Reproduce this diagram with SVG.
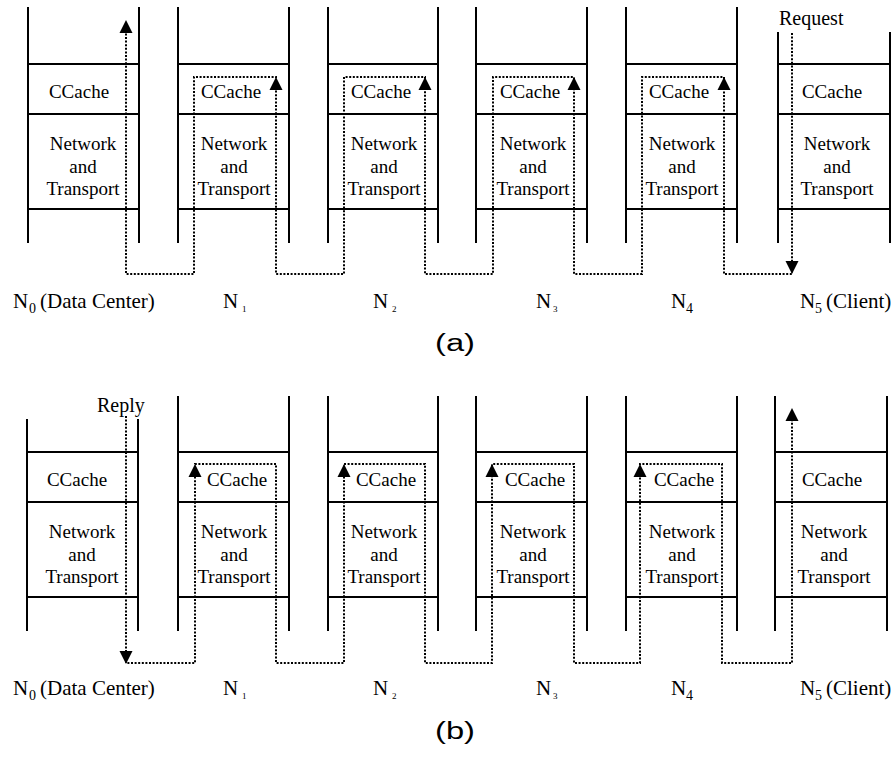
<svg xmlns="http://www.w3.org/2000/svg" width="896" height="758" viewBox="0 0 896 758">
<style>
.st{fill:none;stroke:#000;stroke-width:2}
text{font-family:"Liberation Serif","Times New Roman",serif;fill:#000}
.layer{font-size:19px;text-anchor:middle}
.lb{font-size:21px}
.sub{font-size:14px}
.tiny{font-size:9px}
.cap{font-family:"Liberation Sans",Arial,sans-serif;font-size:23px}
.dot{fill:none;stroke:#000;stroke-width:2;stroke-dasharray:2 1.6}
</style>
<defs>
<path id="up" d="M0,0 L-6.5,13 L6.5,13 Z" fill="#000"/>
<path id="down" d="M0,0 L-6.5,-13 L6.5,-13 Z" fill="#000"/>
</defs>
<rect width="896" height="758" fill="#fff"/>

<!-- Panel (a) -->
<g id="a-N0">
<path class="st" d="M28,7V243M139,7V243M28,64H139M28,114H139M28,209H139"/>
<text class="layer" x="79" y="98" font-family="Liberation Serif, serif">CCache</text>
<text class="layer" x="83" y="150" font-family="Liberation Serif, serif">Network</text>
<text class="layer" x="83" y="173" font-family="Liberation Serif, serif">and</text>
<text class="layer" x="83" y="195" font-family="Liberation Serif, serif">Transport</text>
</g>
<g id="a-N1">
<path class="st" d="M178,7V243M289,7V243M178,64H289M178,114H289M178,209H289"/>
<text class="layer" x="231" y="98" font-family="Liberation Serif, serif">CCache</text>
<text class="layer" x="234" y="150" font-family="Liberation Serif, serif">Network</text>
<text class="layer" x="234" y="173" font-family="Liberation Serif, serif">and</text>
<text class="layer" x="234" y="195" font-family="Liberation Serif, serif">Transport</text>
</g>
<g id="a-N2">
<path class="st" d="M328,7V243M438,7V243M328,64H438M328,114H438M328,209H438"/>
<text class="layer" x="381" y="98" font-family="Liberation Serif, serif">CCache</text>
<text class="layer" x="384" y="150" font-family="Liberation Serif, serif">Network</text>
<text class="layer" x="384" y="173" font-family="Liberation Serif, serif">and</text>
<text class="layer" x="384" y="195" font-family="Liberation Serif, serif">Transport</text>
</g>
<g id="a-N3">
<path class="st" d="M476,7V243M587,7V243M476,64H587M476,114H587M476,209H587"/>
<text class="layer" x="530" y="98" font-family="Liberation Serif, serif">CCache</text>
<text class="layer" x="533" y="150" font-family="Liberation Serif, serif">Network</text>
<text class="layer" x="533" y="173" font-family="Liberation Serif, serif">and</text>
<text class="layer" x="533" y="195" font-family="Liberation Serif, serif">Transport</text>
</g>
<g id="a-N4">
<path class="st" d="M626,7V243M737,7V243M626,64H737M626,114H737M626,209H737"/>
<text class="layer" x="679" y="98" font-family="Liberation Serif, serif">CCache</text>
<text class="layer" x="682" y="150" font-family="Liberation Serif, serif">Network</text>
<text class="layer" x="682" y="173" font-family="Liberation Serif, serif">and</text>
<text class="layer" x="682" y="195" font-family="Liberation Serif, serif">Transport</text>
</g>
<g id="a-N5">
<path class="st" d="M778,32V243M890,32V243M778,64H890M778,114H890M778,209H890"/>
<text class="layer" x="832" y="98" font-family="Liberation Serif, serif">CCache</text>
<text class="layer" x="837" y="150" font-family="Liberation Serif, serif">Network</text>
<text class="layer" x="837" y="173" font-family="Liberation Serif, serif">and</text>
<text class="layer" x="837" y="195" font-family="Liberation Serif, serif">Transport</text>
</g>
<g id="a-connectors">
<path class="dot" d="M792,33V274H724V77H642V274H574V77H493V274H425V77H344V274H276V77H194V274H126V22"/>
<use href="#down" x="792" y="274"/>
<use href="#up" x="724" y="77"/>
<use href="#up" x="574" y="77"/>
<use href="#up" x="425" y="77"/>
<use href="#up" x="276" y="77"/>
<use href="#up" x="126" y="20"/>
</g>
<g id="a-labels">
<text x="779" y="25" style="font-size:20px">Request</text>
<text class="lb" y="308"><tspan x="13">N</tspan><tspan class="sub" x="29" dy="5">0</tspan><tspan x="40" dy="-5">(Data Center)</tspan></text>
<text class="lb" y="308"><tspan x="223">N</tspan><tspan class="tiny" x="242" dy="4">1</tspan></text>
<text class="lb" y="308"><tspan x="373">N</tspan><tspan class="tiny" x="392" dy="4">2</tspan></text>
<text class="lb" y="308"><tspan x="536">N</tspan><tspan class="tiny" x="553" dy="4">3</tspan></text>
<text class="lb" y="308"><tspan x="671">N</tspan><tspan class="sub" x="686" dy="5">4</tspan></text>
<text class="lb" y="308"><tspan x="800">N</tspan><tspan class="sub" x="815" dy="5">5</tspan><tspan x="826" dy="-5">(Client)</tspan></text>
<text class="cap" x="435" y="351" textLength="40" lengthAdjust="spacingAndGlyphs">(a)</text>
</g>

<!-- Panel (b) -->
<g id="b-N0">
<path class="st" d="M27,419V631M138,419V631M27,452H138M27,502H138M27,597H138"/>
<text class="layer" x="77" y="486" font-family="Liberation Serif, serif">CCache</text>
<text class="layer" x="82" y="538" font-family="Liberation Serif, serif">Network</text>
<text class="layer" x="82" y="561" font-family="Liberation Serif, serif">and</text>
<text class="layer" x="82" y="583" font-family="Liberation Serif, serif">Transport</text>
</g>
<g id="b-N1">
<path class="st" d="M178,396V631M289,396V631M178,452H289M178,502H289M178,597H289"/>
<text class="layer" x="237" y="486" font-family="Liberation Serif, serif">CCache</text>
<text class="layer" x="234" y="538" font-family="Liberation Serif, serif">Network</text>
<text class="layer" x="234" y="561" font-family="Liberation Serif, serif">and</text>
<text class="layer" x="234" y="583" font-family="Liberation Serif, serif">Transport</text>
</g>
<g id="b-N2">
<path class="st" d="M328,396V631M438,396V631M328,452H438M328,502H438M328,597H438"/>
<text class="layer" x="386" y="486" font-family="Liberation Serif, serif">CCache</text>
<text class="layer" x="384" y="538" font-family="Liberation Serif, serif">Network</text>
<text class="layer" x="384" y="561" font-family="Liberation Serif, serif">and</text>
<text class="layer" x="384" y="583" font-family="Liberation Serif, serif">Transport</text>
</g>
<g id="b-N3">
<path class="st" d="M476,396V631M587,396V631M476,452H587M476,502H587M476,597H587"/>
<text class="layer" x="535" y="486" font-family="Liberation Serif, serif">CCache</text>
<text class="layer" x="533" y="538" font-family="Liberation Serif, serif">Network</text>
<text class="layer" x="533" y="561" font-family="Liberation Serif, serif">and</text>
<text class="layer" x="533" y="583" font-family="Liberation Serif, serif">Transport</text>
</g>
<g id="b-N4">
<path class="st" d="M626,396V631M737,396V631M626,452H737M626,502H737M626,597H737"/>
<text class="layer" x="684" y="486" font-family="Liberation Serif, serif">CCache</text>
<text class="layer" x="682" y="538" font-family="Liberation Serif, serif">Network</text>
<text class="layer" x="682" y="561" font-family="Liberation Serif, serif">and</text>
<text class="layer" x="682" y="583" font-family="Liberation Serif, serif">Transport</text>
</g>
<g id="b-N5">
<path class="st" d="M775,396V631M887,396V631M775,452H887M775,502H887M775,597H887"/>
<text class="layer" x="832" y="486" font-family="Liberation Serif, serif">CCache</text>
<text class="layer" x="834" y="538" font-family="Liberation Serif, serif">Network</text>
<text class="layer" x="834" y="561" font-family="Liberation Serif, serif">and</text>
<text class="layer" x="834" y="583" font-family="Liberation Serif, serif">Transport</text>
</g>
<g id="b-connectors">
<path class="dot" d="M126,416V663H195V464H276V663H344V464H425V663H492V464H574V663H640V464H722V663H792V412"/>
<use href="#down" x="126" y="664"/>
<use href="#up" x="195" y="464"/>
<use href="#up" x="344" y="464"/>
<use href="#up" x="492" y="464"/>
<use href="#up" x="640" y="464"/>
<use href="#up" x="792" y="408"/>
</g>
<g id="b-labels">
<text x="97" y="412" style="font-size:20px">Reply</text>
<text class="lb" y="695"><tspan x="13">N</tspan><tspan class="sub" x="29" dy="5">0</tspan><tspan x="40" dy="-5">(Data Center)</tspan></text>
<text class="lb" y="695"><tspan x="223">N</tspan><tspan class="tiny" x="242" dy="4">1</tspan></text>
<text class="lb" y="695"><tspan x="373">N</tspan><tspan class="tiny" x="392" dy="4">2</tspan></text>
<text class="lb" y="695"><tspan x="536">N</tspan><tspan class="tiny" x="553" dy="4">3</tspan></text>
<text class="lb" y="695"><tspan x="671">N</tspan><tspan class="sub" x="686" dy="5">4</tspan></text>
<text class="lb" y="695"><tspan x="800">N</tspan><tspan class="sub" x="815" dy="5">5</tspan><tspan x="826" dy="-5">(Client)</tspan></text>
<text class="cap" x="435" y="739" textLength="40" lengthAdjust="spacingAndGlyphs">(b)</text>
</g>
</svg>
